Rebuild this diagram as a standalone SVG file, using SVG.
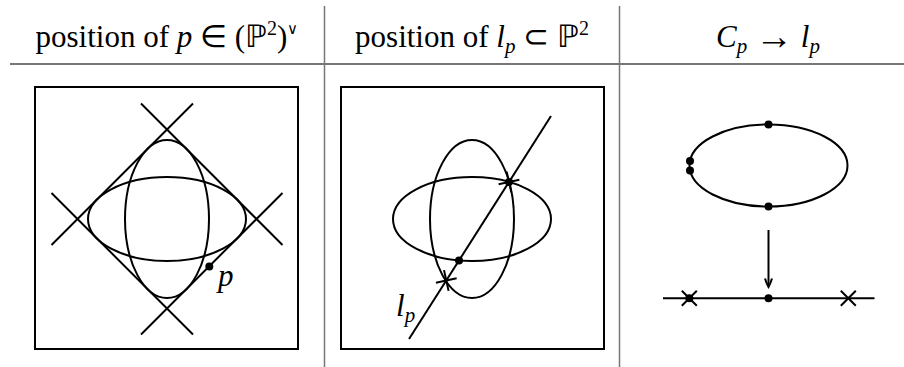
<svg xmlns="http://www.w3.org/2000/svg" width="904" height="367" viewBox="0 0 904 367">
<style>
.hd{font-family:"Liberation Serif","Times New Roman",serif;font-size:31px;fill:#000}
.it{font-style:italic}
.s{fill:none;stroke:#000;stroke-width:2}
.rule{stroke:#777;fill:none}
.dot{fill:#000}
</style>
<defs>
<path id="xm" d="M-7.5,-7.5L7.5,7.5M-7.5,7.5L7.5,-7.5" fill="none" stroke="#000" stroke-width="2"/>
</defs>
<g id="table">
<line class="rule" x1="10" y1="64" x2="904" y2="64" stroke-width="2"/>
<line class="rule" x1="324.5" y1="6" x2="324.5" y2="367" stroke-width="1.5"/>
<line class="rule" x1="619.5" y1="6" x2="619.5" y2="367" stroke-width="1.5"/>
</g>
<g id="headers">
<text class="hd" x="167" y="47" text-anchor="middle">position of <tspan class="it">p</tspan> ∈ (ℙ<tspan dy="-12" font-size="20">2</tspan><tspan dy="12">)</tspan><tspan dy="-13" font-size="15">∨</tspan></text>
<text class="hd" x="472" y="47" text-anchor="middle">position of <tspan class="it">l</tspan><tspan dy="6" font-size="21" class="it">p</tspan><tspan dy="-6"> ⊂ ℙ</tspan><tspan dy="-12" font-size="20">2</tspan></text>
<text class="hd" x="768" y="47" text-anchor="middle"><tspan class="it">C</tspan><tspan dy="6" font-size="21" class="it">p</tspan><tspan dy="-6"> </tspan><tspan font-size="38" dy="2">→</tspan><tspan dy="-2"> </tspan><tspan class="it">l</tspan><tspan dy="6" font-size="21" class="it">p</tspan></text>
</g>
<g id="panel1">
<rect class="s" x="35" y="87" width="263" height="262"/>
<ellipse class="s" cx="167" cy="219" rx="79" ry="42"/>
<ellipse class="s" cx="167" cy="219" rx="42" ry="79"/>
<path class="s" d="M141,103.5L282.5,245M193,103.5L51.5,245M51.5,193L193,334.5M282.5,193L141,334.5"/>
<circle class="dot" cx="209.3" cy="266.5" r="4"/>
<text class="hd it" x="218" y="286">p</text>
</g>
<g id="panel2">
<rect class="s" x="341" y="87" width="263" height="262"/>
<ellipse class="s" cx="472" cy="219" rx="79" ry="42"/>
<ellipse class="s" cx="472" cy="219" rx="42" ry="79"/>
<line class="s" x1="409" y1="339" x2="551" y2="116"/>
<circle class="dot" cx="509" cy="182" r="4"/>
<use href="#xm" transform="translate(509 182) rotate(-57.5)"/>
<circle class="dot" cx="459" cy="260.5" r="4"/>
<use href="#xm" transform="translate(446.3 280.5) rotate(-57.5)"/>
<text class="hd" x="396" y="316"><tspan class="it">l</tspan><tspan class="it" font-size="21" dy="6">p</tspan></text>
</g>
<g id="panel3">
<ellipse class="s" cx="768.5" cy="165.5" rx="79" ry="41"/>
<circle class="dot" cx="768.5" cy="124.5" r="4"/>
<circle class="dot" cx="768.5" cy="206.5" r="4"/>
<circle class="dot" cx="690" cy="161" r="4"/>
<circle class="dot" cx="690" cy="170.5" r="4"/>
<line class="s" x1="663" y1="298.3" x2="874.5" y2="298.3"/>
<circle class="dot" cx="689.3" cy="298.3" r="4"/>
<use href="#xm" transform="translate(689.3 298.3)"/>
<circle class="dot" cx="768.5" cy="298.3" r="4"/>
<use href="#xm" transform="translate(848.3 298.3)"/>
</g>
<g id="connectors">
<line class="s" x1="768.5" y1="230" x2="768.5" y2="286"/>
<path class="s" stroke-width="1.6" d="M765,278.5Q766.5,283.5 768.5,287Q770.5,283.5 772,278.5"/>
</g>
</svg>
